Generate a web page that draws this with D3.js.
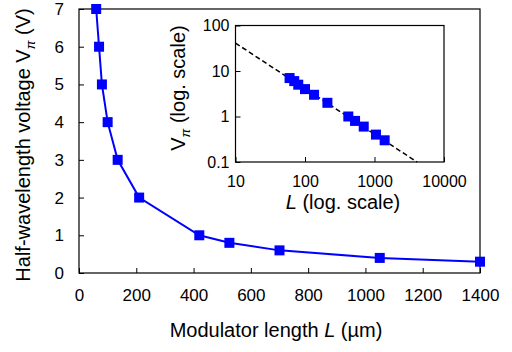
<!DOCTYPE html>
<html lang="en">
  <head>
    <meta charset="UTF-8" />
    <title>Half-wavelength voltage vs modulator length</title>
    <script src="https://d3js.org/d3.v7.min.js"></script>
    <style>
      body { margin: 0; background: #fff; }
      text { font-family: "Liberation Sans", Arial, sans-serif; fill: #000; }
      .domain { display: none; }
    </style>
  </head>
  <body>
    <svg id="canvas" width="512" height="352"></svg>
    <script>
      // data
      const lengths = [60, 70, 80, 100, 135, 210, 420, 525, 700, 1050, 1400];
      const voltages = [7, 6, 5, 4, 3, 2, 1, 0.8, 0.6, 0.4, 0.3];
      const xTicks = [0, 200, 400, 600, 800, 1000, 1200, 1400];
      const yTicks = [0, 1, 2, 3, 4, 5, 6, 7];
      const insetXTicks = [10, 100, 1000, 10000];
      const insetYTicks = [0.1, 1, 10, 100];
      const fitL = [10, 4100];
      const fitV = [41, 0.1];

      const points = lengths.map((l, i) => ({ l, v: voltages[i] }));
      const fit = fitL.map((l, i) => ({ l, v: fitV[i] }));
      const svg = d3.select("#canvas");
      const blue = "#0000ff";
      const ms = 10;
      const plain = d => String(d);

      // main plot
      const x = d3.scaleLinear().domain([0, 1400]).range([79, 480]);
      const y = d3.scaleLinear().domain([0, 7]).range([273, 9]);

      const xAxis = svg.append("g").attr("transform", "translate(0,273)")
        .call(d3.axisBottom(x).tickValues(xTicks).tickFormat(plain)
          .tickSizeInner(-5).tickSizeOuter(0).tickPadding(16));
      xAxis.selectAll("text").attr("font-size", 17);
      const yAxis = svg.append("g").attr("transform", "translate(79,0)")
        .call(d3.axisLeft(y).tickValues(yTicks).tickFormat(plain)
          .tickSizeInner(-5).tickSizeOuter(0).tickPadding(15));
      yAxis.selectAll("text").attr("font-size", 17);

      svg.append("rect").attr("x", 79).attr("y", 9).attr("width", 401).attr("height", 264)
        .attr("fill", "none").attr("stroke", "#000").attr("stroke-width", 1.2);

      svg.append("path").datum(points)
        .attr("d", d3.line().x(d => x(d.l)).y(d => y(d.v)))
        .attr("fill", "none").attr("stroke", blue).attr("stroke-width", 2);
      svg.selectAll(".m").data(points).enter().append("rect")
        .attr("x", d => x(d.l) - ms / 2).attr("y", d => y(d.v) - ms / 2)
        .attr("width", ms).attr("height", ms).attr("fill", blue);

      // axis titles
      const xt = svg.append("text").attr("x", 276).attr("y", 337)
        .attr("text-anchor", "middle").attr("font-size", 20);
      xt.append("tspan").text("Modulator length ");
      xt.append("tspan").attr("font-style", "italic").text("L");
      xt.append("tspan").text(" (µm)");

      const yt = svg.append("text").attr("transform", "translate(30,145) rotate(-90)")
        .attr("text-anchor", "middle").attr("font-size", 20);
      yt.append("tspan").text("Half-wavelength voltage V");
      yt.append("tspan").attr("font-size", 13).attr("font-style", "italic").attr("dy", 5).text("π");
      yt.append("tspan").attr("dy", -5).text(" (V)");

      // inset (log-log)
      const ix = d3.scaleLog().domain([10, 10000]).range([235.5, 444]);
      const iy = d3.scaleLog().domain([0.1, 100]).range([162, 25.5]);

      const ixAxis = svg.append("g").attr("transform", "translate(0,162)")
        .call(d3.axisBottom(ix).tickValues(insetXTicks).tickFormat(plain)
          .tickSizeInner(-5).tickSizeOuter(0).tickPadding(14));
      ixAxis.selectAll("text").attr("font-size", 16);
      const iyAxis = svg.append("g").attr("transform", "translate(235.5,0)")
        .call(d3.axisLeft(iy).tickValues(insetYTicks).tickFormat(plain)
          .tickSizeInner(-5).tickSizeOuter(0).tickPadding(6));
      iyAxis.selectAll("text").attr("font-size", 16);
      svg.selectAll(".tick line").attr("stroke", "#000");

      svg.append("rect").attr("x", 235.5).attr("y", 25.5).attr("width", 208.5).attr("height", 136.5)
        .attr("fill", "none").attr("stroke", "#000").attr("stroke-width", 1.2);

      svg.append("path").datum(fit)
        .attr("d", d3.line().x(d => ix(d.l)).y(d => iy(d.v)))
        .attr("fill", "none").attr("stroke", "#000").attr("stroke-width", 1.5)
        .attr("stroke-dasharray", "5,3");
      svg.selectAll(".im").data(points).enter().append("rect")
        .attr("x", d => ix(d.l) - ms / 2).attr("y", d => iy(d.v) - ms / 2)
        .attr("width", ms).attr("height", ms).attr("fill", blue);

      const ixt = svg.append("text").attr("x", 343).attr("y", 209)
        .attr("text-anchor", "middle").attr("font-size", 20);
      ixt.append("tspan").attr("font-style", "italic").text("L");
      ixt.append("tspan").text(" (log. scale)");

      const iyt = svg.append("text").attr("transform", "translate(185,88) rotate(-90)")
        .attr("text-anchor", "middle").attr("font-size", 20);
      iyt.append("tspan").text("V");
      iyt.append("tspan").attr("font-size", 13).attr("font-style", "italic").attr("dy", 5).text("π");
      iyt.append("tspan").attr("dy", -5).text(" (log. scale)");
    </script>
  </body>
</html>
